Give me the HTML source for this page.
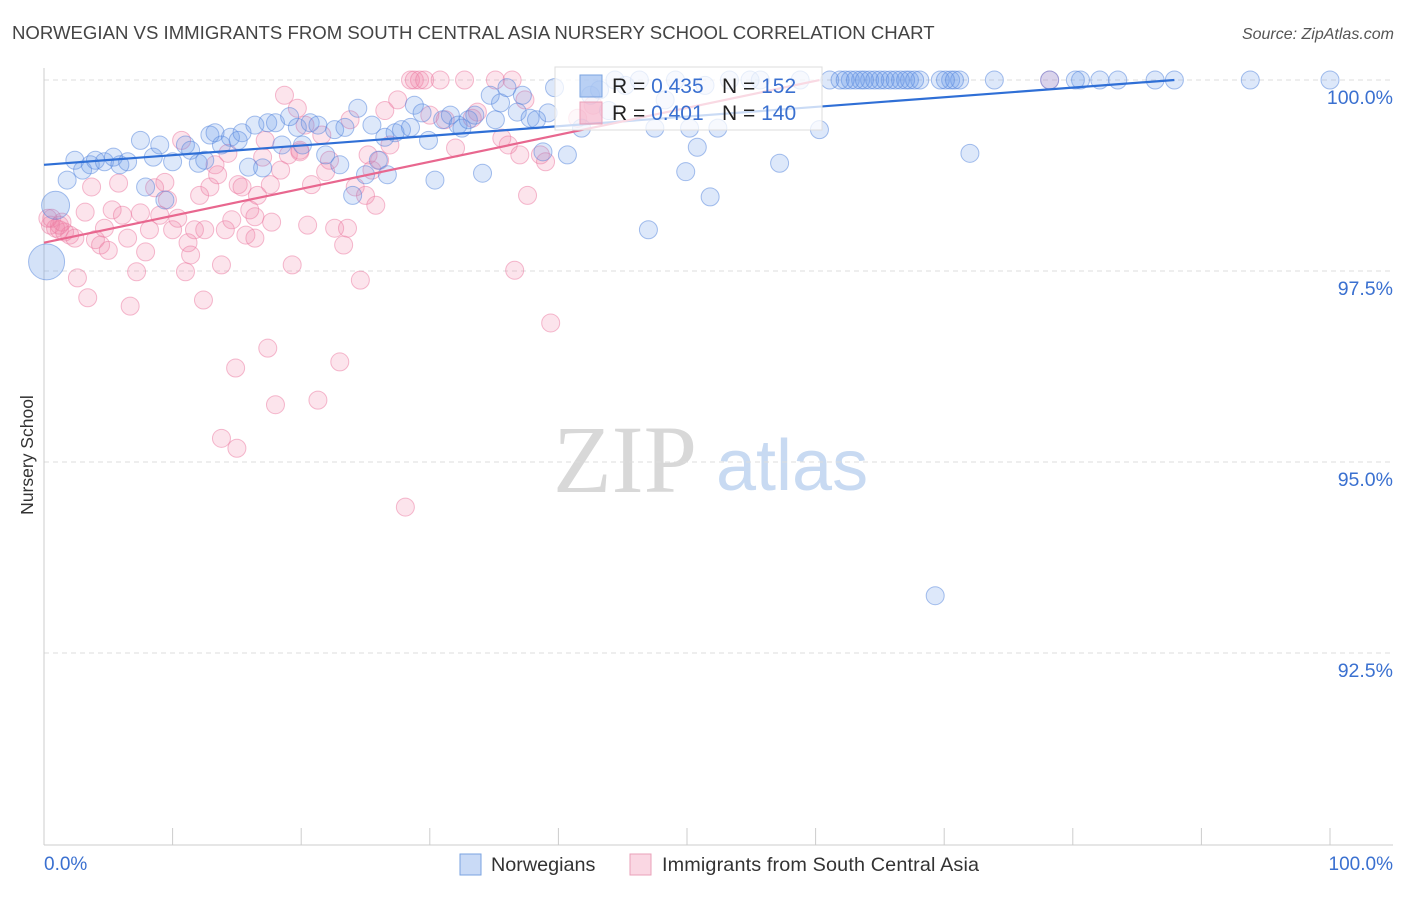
<!DOCTYPE html>
<html><head><meta charset="utf-8"><style>
body{margin:0;background:#fff;font-family:"Liberation Sans",sans-serif;}
svg text{font-family:"Liberation Sans",sans-serif;}
</style></head><body>
<svg id="chart" width="1406" height="892" viewBox="0 0 1406 892" xmlns="http://www.w3.org/2000/svg">
<text x="12" y="39" font-size="18.6" fill="#444">NORWEGIAN VS IMMIGRANTS FROM SOUTH CENTRAL ASIA NURSERY SCHOOL CORRELATION CHART</text>
<text x="1394" y="39" font-size="16" fill="#555" font-style="italic" text-anchor="end">Source: ZipAtlas.com</text>
<text x="553" y="492" font-size="96" font-family="Liberation Serif" fill="#d8d8d8" style="font-family:'Liberation Serif',serif">ZIP</text>
<text x="716" y="490" font-size="72" fill="#c8daf2">atlas</text>
<g id="grid"></g>
<g id="axes"></g>
<g id="pink-pts"></g>
<g id="blue-pts"></g>
<g id="lines"></g>
<text transform="translate(33,455) rotate(-90)" font-size="17.5" fill="#333" text-anchor="middle">Nursery School</text>
<g>
<rect x="555" y="67" width="267" height="63" fill="rgba(255,255,255,0.75)" stroke="#ddd"/>
<rect x="580" y="75" width="22" height="22" fill="rgba(100,150,230,0.45)" stroke="#7aa3e0"/>
<rect x="580" y="102" width="22" height="22" fill="rgba(240,140,175,0.45)" stroke="#eaa0b8"/>
<text x="612" y="93" font-size="21" fill="#222">R = <tspan fill="#3a70d0">0.435</tspan></text>
<text x="722" y="93" font-size="21" fill="#222">N = <tspan fill="#3a70d0">152</tspan></text>
<text x="612" y="120" font-size="21" fill="#222">R = <tspan fill="#3a70d0">0.401</tspan></text>
<text x="722" y="120" font-size="21" fill="#222">N = <tspan fill="#3a70d0">140</tspan></text>
</g>
<g>
<rect x="460" y="854" width="21" height="21" fill="rgba(100,150,230,0.35)" stroke="#7aa3e0"/>
<text x="491" y="871" font-size="19.8" fill="#333">Norwegians</text>
<rect x="630" y="854" width="21" height="21" fill="rgba(240,140,175,0.35)" stroke="#eaa0b8"/>
<text x="662" y="871" font-size="19.8" fill="#333" textLength="317">Immigrants from South Central Asia</text>
</g>
<text x="44" y="870" font-size="19" fill="#3a70d0">0.0%</text>
<text x="1393" y="870" font-size="19" fill="#3a70d0" text-anchor="end">100.0%</text>
</svg>
<script>
const yTicks=[100,97.5,95,92.5];
const yTickLabels=["100.0%","97.5%","95.0%","92.5%"];
const xTicks=[0,10,20,30,40,50,60,70,80,90,100];
const blueTrend=[98.89,0.01263];
const pinkTrend=[97.87,0.0353];
const blueTrendEnd=87.9, pinkTrendEnd=60.3;
const blueBig=[[0.9,98.36],[0.2,97.62]];
const blue=[[1.8,98.69],[2.4,98.95],[3.0,98.82],[3.6,98.89],[4.0,98.95],[4.7,98.93],[5.4,98.99],[5.9,98.89],[6.5,98.93],[7.5,99.21],[7.9,98.6],[8.5,98.99],[9.0,99.15],[9.4,98.43],[10.0,98.93],[11.0,99.15],[11.4,99.08],[12.0,98.91],[12.5,98.95],[12.9,99.28],[13.3,99.31],[13.8,99.15],[14.5,99.25],[15.1,99.21],[15.4,99.31],[15.9,98.86],[16.4,99.41],[17.0,98.85],[17.4,99.44],[18.0,99.44],[18.5,99.15],[19.1,99.52],[19.7,99.38],[20.1,99.15],[20.7,99.44],[21.3,99.41],[21.9,99.02],[22.6,99.35],[23.0,98.89],[23.4,99.38],[24.0,98.49],[24.4,99.63],[25.0,98.76],[25.5,99.41],[26.0,98.95],[26.5,99.25],[26.7,98.76],[27.3,99.31],[27.8,99.35],[28.5,99.38],[28.8,99.67],[29.4,99.57],[29.9,99.21],[30.4,98.69],[31.0,99.48],[31.6,99.54],[32.2,99.41],[32.5,99.37],[33.0,99.48],[33.5,99.54],[34.1,98.78],[34.7,99.8],[35.1,99.48],[35.5,99.7],[36.0,99.9],[36.8,99.58],[37.2,99.8],[37.8,99.5],[38.3,99.48],[38.8,99.06],[39.2,99.57],[39.7,99.9],[40.7,99.02],[41.8,99.37],[42.5,99.8],[43.2,99.87],[43.9,99.6],[44.4,100],[45.2,99.93],[46.3,100],[47.0,98.04],[47.5,99.37],[48.3,99.74],[49.1,100],[49.9,98.8],[50.2,99.37],[50.8,99.12],[51.4,99.93],[51.8,98.47],[52.4,99.37],[53.3,100],[54.9,100],[55.7,100],[57.2,98.91],[58.8,100],[60.3,99.35],[61.1,100],[61.9,100],[62.7,100],[63.5,100],[64.2,100],[65.0,100],[65.8,100],[66.6,100],[67.3,100],[68.1,100],[69.7,100],[70.5,100],[71.2,100],[72.0,99.04],[73.9,100],[78.2,100],[80.6,100],[82.1,100],[83.5,100],[86.4,100],[87.9,100],[93.8,100],[100,100],[69.3,93.25],[62.3,100],[63.1,100],[63.8,100],[64.6,100],[65.4,100],[66.2,100],[67.0,100],[67.7,100],[70.1,100],[70.8,100],[80.2,100]];
const pink=[[0.5,98.1],[0.9,98.06],[1.2,98.04],[1.6,98.01],[2.0,97.97],[2.4,97.93],[0.6,98.19],[1.4,98.14],[2.6,97.41],[3.4,97.15],[3.2,98.27],[3.7,98.6],[4.0,97.91],[4.4,97.84],[4.7,98.06],[5.0,97.77],[5.3,98.3],[5.8,98.65],[6.1,98.23],[6.5,97.93],[6.7,97.04],[7.2,97.49],[7.5,98.26],[7.9,97.75],[8.2,98.04],[8.6,98.59],[9.0,98.23],[9.4,98.66],[9.6,98.43],[10.0,98.04],[10.4,98.19],[10.7,99.21],[11.0,97.49],[11.2,97.87],[11.4,97.71],[11.7,98.04],[12.1,98.49],[12.4,97.12],[12.5,98.04],[12.9,98.6],[13.3,98.89],[13.5,98.76],[13.8,97.58],[14.1,98.04],[14.3,99.04],[14.6,98.17],[14.9,96.23],[15.1,98.63],[15.4,98.6],[15.7,97.97],[16.0,98.3],[16.4,97.93],[16.6,98.49],[17.0,98.99],[17.2,99.21],[17.4,96.49],[17.7,98.14],[18.0,95.75],[18.4,98.82],[18.7,99.8],[19.0,99.02],[19.3,97.58],[19.7,99.63],[19.9,99.06],[20.3,99.41],[20.5,98.1],[20.8,98.63],[21.3,95.81],[21.6,99.28],[21.9,98.8],[22.2,98.95],[22.6,98.06],[23.0,96.31],[23.3,97.84],[23.6,98.06],[23.8,99.48],[24.2,98.6],[24.6,97.38],[25.0,98.49],[25.2,99.02],[25.5,98.82],[25.8,98.36],[26.1,98.95],[26.5,99.6],[26.9,99.15],[27.5,99.74],[28.1,94.41],[28.5,100],[28.8,100],[29.2,100],[29.6,100],[30.0,99.54],[30.8,100],[31.2,99.48],[32.0,99.11],[32.7,100],[33.3,99.5],[33.7,99.58],[35.1,100],[35.6,99.24],[36.1,99.15],[36.4,100],[36.6,97.51],[37.0,99.02],[37.4,99.74],[37.6,98.49],[38.6,99.02],[39.0,98.93],[39.4,96.82],[41.5,99.5],[42.7,99.67],[78.2,100],[13.8,95.31],[15.0,95.18],[16.4,98.21],[17.6,98.63],[19.9,99.08],[1.2,98.1],[0.3,98.19]];

const NS="http://www.w3.org/2000/svg";
const X=v=>44+v*12.86;
const Y=v=>80+(100-v)*76.4;
function mk(tag,parent,attrs){const e=document.createElementNS(NS,tag);for(const k in attrs)e.setAttribute(k,attrs[k]);document.getElementById(parent).appendChild(e);return e;}
yTicks.forEach((t,i)=>{
 const l=mk('line','grid',{x1:44,x2:1393,y1:Y(t),y2:Y(t),stroke:'#ddd','stroke-dasharray':'5,4'});
 
 
 const tx=mk('text','grid',{x:1393,y:Y(t)+24,'font-size':19.5,fill:'#3a70d0','text-anchor':'end'});
 tx.textContent=yTickLabels[i];
 
 
});
const ax=mk('line','axes',{x1:44,x2:44,y1:68,y2:845,stroke:'#ccc'});


const bx=mk('line','axes',{x1:44,x2:1393,y1:845,y2:845,stroke:'#ccc'});


xTicks.forEach(t=>{
 const l=mk('line','axes',{x1:X(t),x2:X(t),y1:828,y2:845,stroke:'#ccc'});
 
 
});
pink.forEach(p=>{
 const c=mk('circle','pink-pts',{cx:X(p[0]),cy:Y(p[1]),r:9,fill:'rgba(240,130,170,0.22)',stroke:'rgba(235,120,160,0.5)','stroke-width':1});
 
 
});
blue.forEach(p=>{
 const c=mk('circle','blue-pts',{cx:X(p[0]),cy:Y(p[1]),r:9,fill:'rgba(100,150,230,0.22)',stroke:'rgba(80,130,220,0.5)','stroke-width':1});
 
 
});
blueBig.forEach((p,i)=>{
 const c=mk('circle','blue-pts',{cx:X(p[0]),cy:Y(p[1]),r:i?18:14,fill:'rgba(100,150,230,0.28)',stroke:'rgba(80,130,220,0.5)','stroke-width':1});
 
 
});
const bl=mk('line','lines',{x1:X(0),y1:Y(blueTrend[0]),x2:X(blueTrendEnd),y2:Y(blueTrend[0]+blueTrend[1]*blueTrendEnd),stroke:'#2f6fd6','stroke-width':2.2});


const pl=mk('line','lines',{x1:X(0),y1:Y(pinkTrend[0]),x2:X(pinkTrendEnd),y2:Y(pinkTrend[0]+pinkTrend[1]*pinkTrendEnd),stroke:'#e8678f','stroke-width':2.2});


</script>
</body></html>
